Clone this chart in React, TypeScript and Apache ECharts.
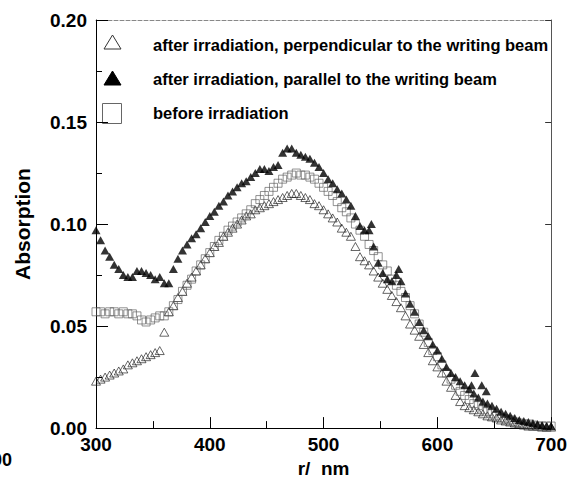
import React, { useEffect, useRef } from "react";
import * as echarts from "echarts";

const wavelengths = [
  300, 304, 308, 312, 316, 320, 324, 328, 332, 336, 340, 344, 348, 352, 356, 360, 364, 368, 372, 376,
  380, 384, 388, 392, 396, 400, 404, 408, 412, 416, 420, 424, 428, 432, 436, 440, 444, 448, 452, 456,
  460, 464, 468, 472, 476, 480, 484, 488, 492, 496, 500, 504, 508, 512, 516, 520, 524, 528, 532, 536,
  540, 544, 548, 552, 556, 560, 564, 568, 572, 576, 580, 584, 588, 592, 596, 600, 604, 608, 612, 616,
  620, 624, 628, 632, 636, 640, 644, 648, 652, 656, 660, 664, 668, 672, 676, 680, 684, 688, 692, 696,
  700,
];

const perpendicular = [
  0.023, 0.024, 0.025, 0.026, 0.027, 0.028, 0.029, 0.031, 0.032, 0.033, 0.034, 0.035, 0.036, 0.037, 0.038, 0.047, 0.057, 0.06, 0.064, 0.067,
  0.071, 0.074, 0.077, 0.08, 0.083, 0.086, 0.089, 0.091, 0.094, 0.096, 0.098, 0.1, 0.102, 0.104, 0.105, 0.107, 0.108, 0.109, 0.11, 0.111,
  0.112, 0.113, 0.114, 0.115, 0.115, 0.114, 0.113, 0.112, 0.11, 0.109, 0.107, 0.105, 0.103, 0.101, 0.098, 0.096, 0.094, 0.089, 0.084, 0.082,
  0.08, 0.077, 0.074, 0.071, 0.068, 0.065, 0.062, 0.059, 0.055, 0.051, 0.048, 0.045, 0.041, 0.037, 0.033, 0.03, 0.027, 0.023, 0.02, 0.016,
  0.013, 0.011, 0.01, 0.009, 0.008, 0.007, 0.006, 0.0055, 0.005, 0.004, 0.0035, 0.003, 0.0025, 0.002, 0.0015, 0.001, 0.001, 0.001, 0.0005, 0.0005,
  0.0005,
];

const parallel = [
  0.097, 0.092, 0.087, 0.084, 0.08, 0.078, 0.075, 0.074, 0.074, 0.077, 0.077, 0.076, 0.075, 0.073, 0.074, 0.071, 0.071, 0.078, 0.083, 0.087,
  0.09, 0.093, 0.095, 0.098, 0.101, 0.104, 0.106, 0.109, 0.111, 0.114, 0.116, 0.118, 0.12, 0.121, 0.123, 0.125, 0.127, 0.127, 0.126, 0.128,
  0.129, 0.135, 0.137, 0.137, 0.135, 0.134, 0.133, 0.132, 0.13, 0.128, 0.125, 0.122, 0.12, 0.117, 0.115, 0.112, 0.109, 0.104, 0.099, 0.097,
  0.097, 0.089, 0.081, 0.076, 0.073, 0.072, 0.075, 0.072, 0.066, 0.061, 0.057, 0.052, 0.048, 0.045, 0.041, 0.038, 0.034, 0.03, 0.027, 0.025,
  0.023, 0.021, 0.019, 0.017, 0.015, 0.013, 0.012, 0.011, 0.0095, 0.008, 0.007, 0.006, 0.005, 0.004, 0.0035, 0.003, 0.0025, 0.002, 0.0015, 0.001,
  0.001,
];

const parallelExtraNm = [542, 566, 630, 633, 639, 643];
const parallelExtraVal = [0.1, 0.078, 0.021, 0.027, 0.021, 0.018];

const before = [
  0.057, 0.057, 0.056, 0.057, 0.057, 0.056, 0.057, 0.056, 0.056, 0.055, 0.053, 0.052, 0.053, 0.054, 0.055, 0.055, 0.057, 0.06, 0.063, 0.067,
  0.07, 0.073, 0.077, 0.08, 0.083, 0.086, 0.089, 0.092, 0.094, 0.097, 0.099, 0.101, 0.103, 0.105, 0.107, 0.11, 0.112, 0.114, 0.116, 0.118,
  0.12, 0.122, 0.123, 0.124, 0.125, 0.124, 0.124, 0.123, 0.122, 0.12, 0.118, 0.116, 0.114, 0.111, 0.108, 0.106, 0.103, 0.1, 0.097, 0.094,
  0.09, 0.087, 0.084, 0.08, 0.077, 0.073, 0.07, 0.067, 0.064, 0.06, 0.056, 0.051, 0.047, 0.042, 0.038, 0.035, 0.031, 0.027, 0.024, 0.021,
  0.018, 0.016, 0.014, 0.012, 0.011, 0.009, 0.008, 0.007, 0.006, 0.005, 0.0045, 0.004, 0.003, 0.0025, 0.002, 0.002, 0.0015, 0.001, 0.001, 0.001,
  0.001,
];

const legendLabels = [
  "after irradiation, perpendicular to the writing beam",
  "after irradiation, parallel to the writing beam",
  "before irradiation",
];
const xTitle = "r/  nm";
const yTitle = "Absorption";

const FONT = '"Liberation Sans", Arial, Helvetica, sans-serif';

export default function App() {
  const ref = useRef<HTMLDivElement>(null);
  useEffect(() => {
    if (!ref.current) return;
    const chart = echarts.init(ref.current, undefined, { renderer: "svg" });
    const pairs = (vals: number[]) => wavelengths.map((w, i) => [w, vals[i]]);
    const parData = pairs(parallel).concat(parallelExtraNm.map((w, i) => [w, parallelExtraVal[i]]));
    const labelStyle = { fontSize: 19, fontWeight: "bold" as const, color: "#000", fontFamily: FONT };
    const option: any = {
      animation: false,
      backgroundColor: "#fff",
      grid: { left: 96, right: 17, top: 20, bottom: 52 },
      xAxis: [
        {
          type: "value",
          min: 300,
          max: 700,
          interval: 100,
          position: "bottom",
          name: xTitle,
          nameLocation: "middle",
          nameGap: 27,
          nameTextStyle: { fontSize: 19, fontWeight: "bold", color: "#000", fontFamily: FONT },
          axisLine: { show: true, onZero: false, lineStyle: { color: "#000", width: 1 } },
          axisTick: { show: true, inside: true, length: 11, lineStyle: { color: "#000", width: 1 } },
          minorTick: { show: true, splitNumber: 2, length: 7, lineStyle: { color: "#000", width: 1 } },
          axisLabel: { ...labelStyle, margin: 7 },
          splitLine: { show: false },
        },
        {
          type: "value",
          min: 300,
          max: 700,
          position: "top",
          axisLine: { show: true, onZero: false, lineStyle: { color: "#888", width: 1, type: "dashed" } },
          axisTick: { show: false },
          axisLabel: { show: false },
          splitLine: { show: false },
        },
      ],
      yAxis: [
        {
          type: "value",
          min: 0,
          max: 0.2,
          interval: 0.05,
          position: "left",
          name: yTitle,
          nameLocation: "middle",
          nameGap: 63,
          nameTextStyle: { fontSize: 21, fontWeight: "bold", color: "#000", fontFamily: FONT },
          axisLine: { show: true, onZero: false, lineStyle: { color: "#000", width: 1 } },
          axisTick: { show: true, inside: true, length: 12, lineStyle: { color: "#000", width: 1 } },
          minorTick: { show: true, splitNumber: 2, length: 6, lineStyle: { color: "#000", width: 1 } },
          axisLabel: { ...labelStyle, margin: 9, formatter: (v: number) => v.toFixed(2) },
          splitLine: { show: false },
        },
        {
          type: "value",
          min: 0,
          max: 0.2,
          interval: 0.05,
          position: "right",
          axisLine: { show: true, onZero: false, lineStyle: { color: "#555", width: 1 } },
          axisTick: { show: true, inside: true, length: 6, lineStyle: { color: "#333", width: 1 } },
          axisLabel: { show: false },
          splitLine: { show: false },
        },
      ],
      series: [
        {
          name: legendLabels[0],
          type: "scatter",
          data: pairs(perpendicular),
          symbol: "triangle",
          symbolSize: [9, 8],
          itemStyle: { color: "rgba(255,255,255,0)", borderColor: "#111", borderWidth: 0.8 },
          z: 2,
        },
        {
          name: legendLabels[2],
          type: "scatter",
          data: pairs(before),
          symbol: "rect",
          symbolSize: 8,
          itemStyle: { color: "rgba(255,255,255,0)", borderColor: "#555", borderWidth: 0.8 },
          z: 3,
        },
        {
          name: legendLabels[1],
          type: "scatter",
          data: parData,
          symbol: "triangle",
          symbolSize: [9, 8],
          itemStyle: { color: "#000" },
          z: 4,
        },
      ],
      graphic: [
        {
          type: "polygon",
          shape: { points: [[104, 49], [121, 49], [112.5, 35]] },
          style: { fill: "none", stroke: "#333", lineWidth: 1 },
        },
        {
          type: "polygon",
          shape: { points: [[104, 85], [121, 85], [112.5, 71]] },
          style: { fill: "#000", stroke: "#000", lineWidth: 1 },
        },
        {
          type: "rect",
          shape: { x: 102.5, y: 103.5, width: 19, height: 20 },
          style: { fill: "none", stroke: "#666", lineWidth: 1 },
        },
        ...legendLabels.map((t, i) => ({
          type: "text",
          x: 153,
          y: [45, 79, 113][i],
          style: {
            text: t,
            fill: "#000",
            font: `bold 16.5px ${FONT}`,
            align: "left",
            verticalAlign: "middle",
          },
        })),
        {
          type: "text",
          x: 12,
          y: 460,
          style: { text: "00", fill: "#000", font: `bold 18px ${FONT}`, align: "right", verticalAlign: "middle" },
        },
      ],
    };
    chart.setOption(option);
    return () => chart.dispose();
  }, []);
  return <div ref={ref} style={{ width: 570, height: 483, position: "absolute", left: 0, top: 0 }} />;
}
